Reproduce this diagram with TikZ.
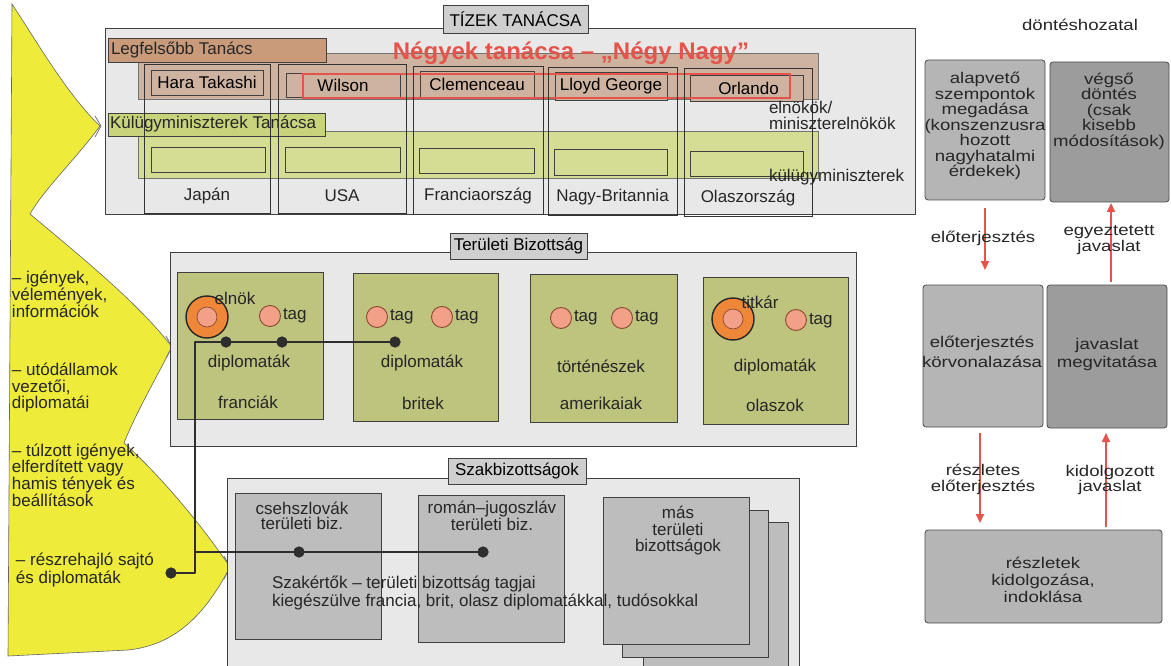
\documentclass[tikz,border=0pt]{standalone}
\usepackage{fontspec}
\setmainfont{Liberation Sans}
\newfontfamily\rfont[FakeStretch=1.2]{Liberation Sans}
\usetikzlibrary{arrows.meta,calc}
\newcommand\mfont{\fontsize{17}{17}\selectfont}
\newcommand\rsz{\rfont\fontsize{15.5}{15.5}\selectfont}
\definecolor{yel}{HTML}{EEEB3A}
\definecolor{bggray}{HTML}{E8E8E8}
\definecolor{lblgray}{HTML}{CFCFCF}
\definecolor{brownbar}{HTML}{C99B7B}
\definecolor{brownbg}{HTML}{CDB3A0}
\definecolor{greenbar}{HTML}{C8D37C}
\definecolor{greenbg}{HTML}{D5DD95}
\definecolor{olive}{HTML}{BEC37E}
\definecolor{redc}{HTML}{E5534B}
\definecolor{orangec}{HTML}{EE8838}
\definecolor{pinkc}{HTML}{F2A088}
\definecolor{tagline}{HTML}{8A4A30}
\definecolor{gbox}{HTML}{BDBDBD}
\definecolor{netc}{HTML}{2E2E2E}
\definecolor{rg1}{HTML}{B5B5B5}
\definecolor{rg2}{HTML}{9C9C9C}
\begin{document}
\begin{tikzpicture}[x=1pt,y=-1pt,
  every node/.style={inner sep=0pt,outer sep=0pt},
  bx/.style={draw=black!75,line width=0.8pt},
  lbl/.style={bx,fill=lblgray,font=\mfont},
  colbox/.style={draw=black!80,line width=0.8pt},
  nm/.style={bx,fill=brownbg,font=\mfont},
  gb/.style={bx,fill=greenbg},
  terr/.style={bx,fill=olive},
  szak/.style={bx,fill=gbox},
  txt/.style={font=\mfont,text=black!85},
  tagc/.style={circle,draw=tagline,line width=0.9pt,fill=pinkc,minimum size=21pt},
  bigc/.style={circle,draw=black!85,line width=1.4pt,fill=orangec,minimum size=42pt},
  bigin/.style={circle,draw=tagline,line width=0.7pt,fill=pinkc,minimum size=20pt},
  dotc/.style={circle,fill=netc,minimum size=11pt},
  net/.style={draw=netc,line width=2.6pt},
  rb/.style={draw=black!70,line width=0.8pt,rounded corners=3pt},
  rtxt/.style={font=\rsz,align=center,text=black!85},
  rarr/.style={draw=redc,line width=1.6pt,-{Triangle[length=9pt,width=8pt]}},
  chev/.style={draw=black!55,line width=0.8pt},
]
\useasboundingbox (0,0) rectangle (1171,666);
\clip (0,0) rectangle (1171,666);
\fill[white] (0,0) rectangle (1171,666);

% ---------- yellow shape ----------
\path[fill=yel,draw=black!60,line width=0.6pt]
  (12,4) .. controls (42,50) and (68,95) .. (100,126)
  .. controls (75,160) and (45,188) .. (30,214)
  .. controls (85,260) and (140,305) .. (172,347)
  .. controls (155,380) and (135,415) .. (124,443)
  .. controls (165,480) and (205,530) .. (230,567)
  .. controls (205,615) and (175,645) .. (128,650)
  -- (8,656) -- cycle;
\draw[chev] (95,116) -- (101,126) -- (95,137);
\draw[chev] (166,336) -- (172,347) -- (166,358);
\draw[chev] (224,556) -- (230,567) -- (224,579);

\node[txt,align=left,anchor=west,font={\fontsize{17}{13}\selectfont}] (ya) at (12,294) {-- igények,\\vélemények,\\információk};
\node[txt,align=left,anchor=west,font={\fontsize{17}{16.5}\selectfont}] (yb) at (12,388) {-- utódállamok\\vezetői,\\diplomatái};
\node[txt,align=left,anchor=west,font={\fontsize{17}{16.7}\selectfont}] (yc) at (12,475) {-- túlzott igények,\\elferdített vagy\\hamis tények és\\beállítások};
\node[txt,align=left,anchor=west,font={\fontsize{17}{15}\selectfont}] (yd) at (16,570) {-- részrehajló sajtó\\és diplomaták};

% ---------- Tízek tanácsa ----------
\node[bx,fill=bggray,minimum width=810pt,minimum height=186pt] (tizek) at (510,121) {};
\node[lbl,minimum width=145pt,minimum height=28pt] (tizeklbl) at (515.5,19) {TÍZEK TANÁCSA};
\node[bx,draw=black!55,fill=brownbg,minimum width=680pt,minimum height=46pt] (brownbgn) at (478,76) {};
\node[bx,fill=brownbar,minimum width=218pt,minimum height=24pt] (legf) at (217,50) {};
\node[txt,anchor=west] (legft) at (111,50) {Legfelsőbb Tanács};
\node[bx,draw=black!55,fill=greenbg,minimum width=680pt,minimum height=47pt] (greenbgn) at (478,154.5) {};
\node[bx,fill=greenbar,minimum width=217pt,minimum height=23pt] (kulb) at (216.5,124.5) {};
\node[txt,anchor=west] (kulbt) at (110,124.5) {Külügyminiszterek Tanácsa};

\node[font=\fontsize{24}{24}\selectfont\bfseries,text=redc] (negyek) at (571,53) {Négyek tanácsa -- „Négy Nagy”};

% name boxes
\node[nm,minimum width=112pt,minimum height=25pt] (hara) at (207,82.5) {Hara Takashi};
\node[nm,minimum width=114pt,minimum height=24pt] (wilson) at (343,85) {Wilson};
\node[nm,minimum width=114pt,minimum height=27pt] (clem) at (477,84.5) {Clemenceau};
\node[nm,minimum width=112pt,minimum height=28pt] (lloyd) at (611,86) {Lloyd George};
\node[nm,minimum width=113pt,minimum height=26pt] (orl) at (746.5,88) {\hspace*{4pt}Orlando};
\node[draw=redc,line width=1.3pt,minimum width=487pt,minimum height=24pt] (four) at (546.5,86) {};

% green inner boxes
\node[gb,minimum width=114pt,minimum height=25pt] (gja) at (208,159.5) {};
\node[gb,minimum width=115pt,minimum height=25pt] (gus) at (342.5,159.5) {};
\node[gb,minimum width=115pt,minimum height=25pt] (gfr) at (476.5,160.5) {};
\node[gb,minimum width=113pt,minimum height=26pt] (gnb) at (610.5,162.5) {};
\node[gb,minimum width=113pt,minimum height=25pt] (gol) at (746.5,164) {};

% country columns
\node[colbox,minimum width=126pt,minimum height=149pt] (cja) at (207,138.5) {};
\node[colbox,minimum width=128pt,minimum height=149pt] (cus) at (342,138.5) {};
\node[colbox,minimum width=130pt,minimum height=148pt] (cfr) at (478,140) {};
\node[colbox,minimum width=129pt,minimum height=148pt] (cnb) at (612.5,141) {};
\node[colbox,minimum width=128pt,minimum height=148pt] (col) at (748,142) {};
\node[txt] (tja) at (207,196) {Japán};
\node[txt] (tus) at (342,196) {USA};
\node[txt] (tfr) at (478,196) {Franciaország};
\node[txt] (tnb) at (612.5,197) {Nagy-Britannia};
\node[txt] (tol) at (748,198) {Olaszország};

\node[txt,align=left,anchor=west,font={\fontsize{17}{16.5}\selectfont}] (elnokok) at (769,115.5) {elnökök/\\miniszterelnökök};
\node[txt,anchor=west] (kulugy) at (769,177) {külügyminiszterek};

% ---------- Területi Bizottság ----------
\node[bx,fill=bggray,minimum width=686pt,minimum height=194pt] (terout) at (513,349) {};
\node[lbl,minimum width=137pt,minimum height=26pt] (terlbl) at (518.5,246) {Területi Bizottság};
\node[terr,minimum width=146pt,minimum height=147pt] (tfrb) at (250,345.5) {};
\node[terr,minimum width=145pt,minimum height=148pt] (tbrb) at (425.5,347) {};
\node[terr,minimum width=147pt,minimum height=148pt] (tamb) at (603.5,348) {};
\node[terr,minimum width=145pt,minimum height=147pt] (tolb) at (775.5,350.5) {};

% circles
\node[bigc] (fbig) at (207,317) {};
\node[bigin] (fbigi) at (207,317) {};
\node[txt] (felnok) at (235,298) {elnök};
\node[tagc] (ft1) at (270,316) {};
\node[txt,anchor=west] (ft1t) at (283,316) {tag};
\node[tagc] (bt1) at (377,317) {};
\node[txt,anchor=west] (bt1t) at (390,317) {tag};
\node[tagc] (bt2) at (442,317) {};
\node[txt,anchor=west] (bt2t) at (455,317) {tag};
\node[tagc] (at1) at (561,318) {};
\node[txt,anchor=west] (at1t) at (574,318) {tag};
\node[tagc] (at2) at (622,318) {};
\node[txt,anchor=west] (at2t) at (635,318) {tag};
\node[bigc] (obig) at (733,319) {};
\node[bigin] (obigi) at (733,319) {};
\node[txt] (otitk) at (760,302) {titkár};
\node[tagc] (ot1) at (796,320) {};
\node[txt,anchor=west] (ot1t) at (809,321) {tag};

\node[txt] (fdip) at (249,363) {diplomaták};
\node[txt] (ffr) at (248,402) {franciák};
\node[txt] (bdip) at (422,363) {diplomaták};
\node[txt] (bbr) at (423,403) {britek};
\node[txt] (atort) at (601,366) {történészek};
\node[txt] (aam) at (601,403) {amerikaiak};
\node[txt] (odip) at (775,367) {diplomaták};
\node[txt] (ool) at (775,405) {olaszok};

% ---------- Szakbizottságok ----------
\node[bx,fill=bggray,minimum width=572pt,minimum height=222pt] (szout) at (513,589) {};
\node[lbl,minimum width=138pt,minimum height=26pt] (szlbl) at (517,471) {Szakbizottságok};
\node[szak,minimum width=146pt,minimum height=146pt] (cseh) at (308,566) {};
\node[szak,minimum width=146pt,minimum height=147pt] (roman) at (491,568.5) {};
\node[szak,minimum width=145pt,minimum height=178pt] (mas3) at (715.5,611) {};
\node[szak,minimum width=146pt,minimum height=147pt] (mas2) at (695,583.5) {};
\node[szak,minimum width=146pt,minimum height=147pt] (mas1) at (676,570.5) {};
\node[txt,align=center,font={\fontsize{17}{15}\selectfont}] (csehT) at (302,515.5) {csehszlovák\\területi biz.};
\node[txt,align=center,font={\fontsize{17}{14}\selectfont}] (romanT) at (492,516) {román--jugoszláv\\területi biz.};
\node[txt,align=center,font={\fontsize{17}{16.5}\selectfont}] (masT) at (678,531) {más\\területi\\bizottságok};
\node[txt,align=left,anchor=west,font={\fontsize{17}{14}\selectfont}] (szakT) at (272,593) {Szakértők -- területi bizottság tagjai\\kiegészülve francia, brit, olasz diplomatákkal, tudósokkal};

% ---------- network ----------
\coordinate (c1) at (195,342);
\coordinate (c2) at (195,573);
\coordinate (c3) at (195,552);
\node[dotc] (d1) at (226,342) {};
\node[dotc] (d2) at (282,342) {};
\node[dotc] (d3) at (395,342) {};
\node[dotc] (d4) at (299,552) {};
\node[dotc] (d5) at (483,552) {};
\node[dotc] (d6) at (171,573) {};
\draw[net,line join=round] (d3.center) -- (c1) -- (c2) -- (d6.center);
\draw[net] (c3) -- (d5.center);
\foreach \d in {d1,d2,d3,d4,d5,d6} \node[dotc] at (\d) {};

% ---------- right column ----------
\node[font=\rsz,text=black!85] (dont) at (1080,25) {döntéshozatal};
\node[rb,fill=rg1,minimum width=120pt,minimum height=140pt] (tl) at (985,130) {};
\node[rb,fill=rg2,minimum width=119pt,minimum height=140pt] (tr) at (1109.5,132) {};
\node[rb,fill=rg1,minimum width=120pt,minimum height=142pt] (ml) at (983,356) {};
\node[rb,fill=rg2,minimum width=120pt,minimum height=143pt] (mr) at (1107,356.5) {};
\node[rb,fill=rg1,minimum width=237pt,minimum height=93pt] (bot) at (1043.5,576.5) {};

\node[rtxt] (tlT) at (985,126) {alapvető\\szempontok\\megadása\\(konszenzusra\\hozott\\nagyhatalmi\\érdekek)};
\node[rtxt] (trT) at (1109,111) {végső\\döntés\\(csak\\kisebb\\módosítások)};
\node[rtxt,font={\rfont\fontsize{15.5}{20}\selectfont}] (mlT) at (982,352) {előterjesztés\\körvonalazása};
\node[rtxt,font={\rfont\fontsize{15.5}{18}\selectfont}] (mrT) at (1107,354) {javaslat\\megvitatása};
\node[rtxt,font={\rfont\fontsize{15.5}{17}\selectfont}] (botT) at (1043,580) {részletek\\kidolgozása,\\indoklása};

\draw[rarr] ($(tl.south)+(0,8)$) -- ($(tl.south |- ml.north)+(0,-15)$);
\draw[rarr] ($(tr.south |- mr.north)+(1.5,-3)$) -- ($(tr.south)+(1.5,1)$);
\draw[rarr] ($(ml.south)+(-3,6)$) -- ($(ml.south |- bot.north)+(-3,-7)$);
\draw[rarr] ($(mr.south |- bot.north)+(-1,-3)$) -- ($(mr.south)+(-1,5)$);

\node[rtxt] (eloT) at (983,238) {előterjesztés};
\node[rtxt,font={\rfont\fontsize{15.5}{14}\selectfont}] (egyT) at (1109,240) {egyeztetett\\javaslat};
\node[rtxt,font={\rfont\fontsize{15.5}{16}\selectfont}] (reszT) at (983,479) {részletes\\előterjesztés};
\node[rtxt,font={\rfont\fontsize{15.5}{15}\selectfont}] (kidT) at (1110,480) {kidolgozott\\javaslat};
\end{tikzpicture}
\end{document}
